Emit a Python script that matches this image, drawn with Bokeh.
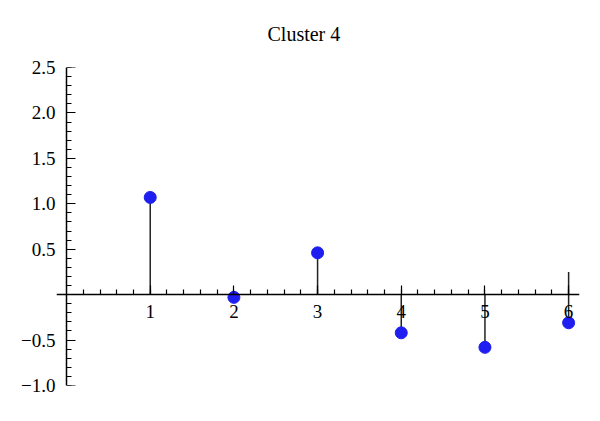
from bokeh.plotting import figure
from bokeh.models import FixedTicker, Range1d, LinearAxis, CustomJSTickFormatter
from bokeh.embed import file_html
from bokeh.resources import INLINE

# data
title_text = "Cluster 4"
xs = [1, 2, 3, 4, 5, 6]
ys = [1.07, -0.03, 0.46, -0.42, -0.58, -0.31]
stem_tops = [0, 0, 0, 0, 0, 0.25]
x_major = [1, 2, 3, 4, 5, 6]
y_major = [-1.0, -0.5, 0.5, 1.0, 1.5, 2.0, 2.5]
x_minor = [round(i * 0.2, 1) for i in range(1, 31)]
y_minor = [round(i * 0.1, 1) for i in range(-10, 26)]

FONT = "Liberation Serif"
FS = "19px"

p = figure(width=584, height=405, output_backend="svg", toolbar_location=None,
           x_range=Range1d(-0.12, 6.13), y_range=Range1d(-1.0, 2.5),
           min_border_left=56, min_border_right=5, min_border_top=67,
           min_border_bottom=20, title=title_text)
p.title.align = "left"
p.title.offset = 211
p.title.standoff = 42
p.title.vertical_align = "top"
p.title.text_font = FONT
p.title.text_font_size = "20px"
p.title.text_font_style = "normal"
p.title.text_color = "black"
p.grid.visible = False
p.outline_line_color = None

# x axis crossing at y = 0
p.xaxis.fixed_location = 0
p.xaxis.ticker = FixedTicker(ticks=x_major, minor_ticks=x_minor)

# left-panel y axis: labels only
p.yaxis.ticker = FixedTicker(ticks=y_major, minor_ticks=[])
p.yaxis.axis_line_color = None
p.yaxis.major_tick_line_color = None
p.yaxis.minor_tick_line_color = None
p.yaxis.major_tick_in = 0
p.yaxis.major_tick_out = 0
p.yaxis.major_label_standoff = 1
p.yaxis.formatter = CustomJSTickFormatter(code="return tick.toFixed(1).replace('-', '\u2212');")
p.yaxis.major_label_text_font = FONT
p.yaxis.major_label_text_font_size = FS
p.yaxis.major_label_text_color = "black"

# y axis line + ticks at x = 0
yline = LinearAxis(fixed_location=0, ticker=FixedTicker(ticks=y_major, minor_ticks=y_minor))
yline.major_label_text_font_size = "0px"
yline.major_label_text_color = None
p.add_layout(yline, "left")

for ax in (p.xaxis[0], yline):
    ax.major_tick_out = 0
    ax.major_tick_in = 9
    ax.minor_tick_out = 0
    ax.minor_tick_in = 5
    ax.axis_line_width = 1.5
    ax.major_tick_line_width = 1.2
    ax.minor_tick_line_width = 1.2
p.xaxis.major_label_text_font = FONT
p.xaxis.major_label_text_font_size = FS
p.xaxis.major_label_text_color = "black"
p.xaxis.major_label_standoff = 10

p.segment(x0=xs, y0=stem_tops, x1=xs, y1=ys, line_color="#222222", line_width=1.5)
p.scatter(xs, ys, size=12, fill_color="#1e1ef0", line_color="#1e1ef0")

open("out.html", "w").write(file_html(p, INLINE))
